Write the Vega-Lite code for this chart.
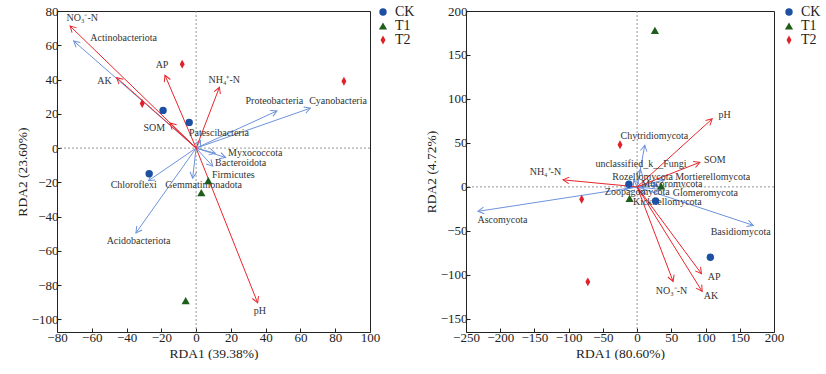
{
  "$schema": "https://vega.github.io/schema/vega-lite/v6.json",
  "padding": {"left": 14, "top": 4, "right": 0, "bottom": 0},
  "spacing": 7,
  "config": {
    "font": "Liberation Serif",
    "view": {"stroke": "#222", "strokeWidth": 1},
    "axis": {
      "grid": false, "domain": false, "tickColor": "#222", "tickSize": -4, "tickCount": 30,
      "labelFontSize": 13, "labelColor": "#222", "labelPadding": 3, "labelOverlap": false, "labelBound": false, "labelFlush": false,
      "titleFontSize": 13.5, "titleFontWeight": "normal", "titleColor": "#222", "titlePadding": 2
    },
    "legend": {
      "labelFontSize": 14, "labelColor": "#222", "symbolSize": 75, "rowPadding": 0,
      "labelOffset": 5, "padding": 0, "title": null
    },
    "text": {"font": "Liberation Serif"}
  },
  "datasets": {
    "pts1": [
      {"group": "CK", "x": -19, "y": 22}, {"group": "CK", "x": -4, "y": 15}, {"group": "CK", "x": -27, "y": -15},
      {"group": "T1", "x": 7, "y": -19}, {"group": "T1", "x": 3, "y": -26}, {"group": "T1", "x": -6, "y": -89},
      {"group": "T2", "x": -8, "y": 49}, {"group": "T2", "x": 85, "y": 39}, {"group": "T2", "x": -31, "y": 26}
    ],
    "env1": [
      {"name": "NO₃⁻-N", "x": -72.5, "y": 71.2, "lx": -65.5, "ly": 75.7},
      {"name": "AP", "x": -17.9, "y": 42.5, "lx": -19.6, "ly": 48.6},
      {"name": "NH₄⁺-N", "x": 13.4, "y": 35.5, "lx": 16.2, "ly": 39.8},
      {"name": "AK", "x": -45.7, "y": 41.1, "lx": -52.7, "ly": 39.4},
      {"name": "SOM", "x": -15, "y": 14.6, "lx": -24, "ly": 11.6},
      {"name": "pH", "x": 35.4, "y": -90.3, "lx": 36.7, "ly": -95.2}
    ],
    "sp1": [
      {"name": "Actinobacteriota", "x": -70.4, "y": 62.5, "lx": -41.7, "ly": 64},
      {"name": "Proteobacteria", "x": 46.5, "y": 21.7, "lx": 45, "ly": 27.5},
      {"name": "Cyanobacteria", "x": 65.7, "y": 23.3, "lx": 81.6, "ly": 27.5},
      {"name": "Patescibacteria", "x": 2.5, "y": 4.5, "lx": 13.1, "ly": 8.7},
      {"name": "Myxococcota", "x": 17, "y": -5.5, "lx": 34, "ly": -2.9},
      {"name": "Bacteroidota", "x": 9.5, "y": -10.5, "lx": 25.6, "ly": -8.7},
      {"name": "Firmicutes", "x": 11, "y": -3, "lx": 21.4, "ly": -15.5},
      {"name": "Chloroflexi", "x": -27.4, "y": -19, "lx": -35.9, "ly": -21.4},
      {"name": "Gemmatimonadota", "x": -2, "y": -17.5, "lx": 4.3, "ly": -21.4},
      {"name": "Acidobacteriota", "x": -34.6, "y": -49.5, "lx": -33.1, "ly": -54.4}
    ],
    "pts2": [
      {"group": "CK", "x": -12, "y": 3}, {"group": "CK", "x": 27, "y": -16}, {"group": "CK", "x": 107, "y": -80},
      {"group": "T1", "x": 26, "y": 178}, {"group": "T1", "x": 35, "y": 1}, {"group": "T1", "x": -11, "y": -13},
      {"group": "T2", "x": -25, "y": 48}, {"group": "T2", "x": -81, "y": -14}, {"group": "T2", "x": -72, "y": -108}
    ],
    "env2": [
      {"name": "pH", "x": 109.7, "y": 77.4, "lx": 128, "ly": 82},
      {"name": "SOM", "x": 91.7, "y": 28, "lx": 113.6, "ly": 30.3},
      {"name": "NH₄⁺-N", "x": -108.2, "y": 8, "lx": -134, "ly": 16.6},
      {"name": "NO₃⁻-N", "x": 52.6, "y": -107.5, "lx": 50.2, "ly": -118},
      {"name": "AP", "x": 94, "y": -98.7, "lx": 112.6, "ly": -102.5},
      {"name": "AK", "x": 95, "y": -118.9, "lx": 107.8, "ly": -124.6}
    ],
    "sp2": [
      {"name": "Ascomycota", "x": -232.5, "y": -27.8, "lx": -196.7, "ly": -37.2},
      {"name": "Basidiomycota", "x": 169.6, "y": -43.7, "lx": 151.3, "ly": -51.3},
      {"name": "Chytridiomycota", "x": 11.2, "y": 47.4, "lx": 25.3, "ly": 57.6},
      {"name": "unclassified_k__Fungi", "x": 5, "y": 20, "lx": 5.6, "ly": 26.2},
      {"name": "Rozellomycota", "x": -5, "y": 8, "lx": 8, "ly": 11.4},
      {"name": "Mortierellomycota", "x": 40, "y": 8, "lx": 110.4, "ly": 11.4},
      {"name": "Mucoromycota", "x": 30, "y": 2, "lx": 50.7, "ly": 3.4},
      {"name": "Zoopagomycota", "x": -18, "y": -3, "lx": 0.3, "ly": -5.7},
      {"name": "Glomeromycota", "x": 35, "y": -3, "lx": 99.7, "ly": -6.8},
      {"name": "Kickxellomycota", "x": 12, "y": -8, "lx": 44.2, "ly": -17.1}
    ]
  },
  "hconcat": [
    {
      "width": 313, "height": 321,
      "layer": [
        {
          "data": {"values": [{}]},
          "mark": {"type": "rule", "stroke": "#8a8a8a", "strokeDash": [2, 2], "strokeWidth": 0.9},
          "encoding": {
            "x": {"datum": 0, "type": "quantitative",
              "scale": {"domain": [-80, 100], "nice": false, "zero": false},
              "axis": {"title": "RDA1 (39.38%)", "values": [-80, -60, -40, -20, 0, 20, 40, 60, 80, 100], "tickCount": 30, "labelOverlap": false}}
          }
        },
        {
          "data": {"values": [{}]},
          "mark": {"type": "rule", "stroke": "#8a8a8a", "strokeDash": [2, 2], "strokeWidth": 0.9},
          "encoding": {
            "y": {"datum": 0, "type": "quantitative",
              "scale": {"domain": [-107.3, 80], "nice": false, "zero": false},
              "axis": {"title": "RDA2 (23.60%)", "values": [-100, -80, -60, -40, -20, 0, 20, 40, 60, 80], "tickCount": 30, "labelOverlap": false}}
          }
        },
        {
          "data": {"name": "sp1"},
          "mark": {"type": "rule", "stroke": "#6d93dc", "strokeWidth": 1},
          "encoding": {
            "x": {"field": "x", "type": "quantitative"}, "y": {"field": "y", "type": "quantitative"},
            "x2": {"datum": 0}, "y2": {"datum": 0}
          }
        },
        {
          "data": {"name": "sp1"},
          "mark": {"type": "point", "shape": "M-0.55,1L0,0L0.55,1", "filled": false, "stroke": "#6d93dc", "strokeWidth": 1, "size": 144, "opacity": 1,
            "angle": {"expr": "atan2(datum.x*1.7389, datum.y*1.7138)*180/PI"}},
          "encoding": {"x": {"field": "x", "type": "quantitative"}, "y": {"field": "y", "type": "quantitative"}}
        },
        {
          "data": {"name": "env1"},
          "mark": {"type": "rule", "stroke": "#e8262b", "strokeWidth": 1},
          "encoding": {
            "x": {"field": "x", "type": "quantitative"}, "y": {"field": "y", "type": "quantitative"},
            "x2": {"datum": 0}, "y2": {"datum": 0}
          }
        },
        {
          "data": {"name": "env1"},
          "mark": {"type": "point", "shape": "M-0.55,1L0,0L0.55,1", "filled": false, "stroke": "#e8262b", "strokeWidth": 1, "size": 144, "opacity": 1,
            "angle": {"expr": "atan2(datum.x*1.7389, datum.y*1.7138)*180/PI"}},
          "encoding": {"x": {"field": "x", "type": "quantitative"}, "y": {"field": "y", "type": "quantitative"}}
        },
        {
          "data": {"name": "sp1"},
          "mark": {"type": "text", "fontSize": 10, "color": "#333", "baseline": "middle"},
          "encoding": {"x": {"field": "lx", "type": "quantitative"}, "y": {"field": "ly", "type": "quantitative"}, "text": {"field": "name"}}
        },
        {
          "data": {"name": "env1"},
          "mark": {"type": "text", "fontSize": 10, "color": "#333", "baseline": "middle"},
          "encoding": {"x": {"field": "lx", "type": "quantitative"}, "y": {"field": "ly", "type": "quantitative"}, "text": {"field": "name"}}
        },
        {
          "data": {"name": "pts1"},
          "mark": {"type": "point", "filled": true, "opacity": 1},
          "encoding": {
            "x": {"field": "x", "type": "quantitative"}, "y": {"field": "y", "type": "quantitative"},
            "size": {"field": "group", "type": "nominal", "legend": null,
              "scale": {"domain": ["CK", "T1", "T2"], "range": [55, 80, 95]}},
            "color": {"field": "group", "type": "nominal",
              "scale": {"domain": ["CK", "T1", "T2"], "range": ["#1d4fa3", "#1f5e1a", "#e0202a"]},
              "legend": {"orient": "none", "legendX": 319, "legendY": -6}},
            "shape": {"field": "group", "type": "nominal",
              "scale": {"domain": ["CK", "T1", "T2"], "range": ["circle", "triangle-up", "M0,-1L0.55,0L0,1L-0.55,0Z"]},
              "legend": {"orient": "none", "legendX": 319, "legendY": -6}}
          }
        }
      ]
    },
    {
      "width": 308, "height": 321,
      "layer": [
        {
          "data": {"values": [{}]},
          "mark": {"type": "rule", "stroke": "#8a8a8a", "strokeDash": [2, 2], "strokeWidth": 0.9},
          "encoding": {
            "x": {"datum": 0, "type": "quantitative",
              "scale": {"domain": [-250, 200], "nice": false, "zero": false},
              "axis": {"title": "RDA1 (80.60%)", "values": [-250, -200, -150, -100, -50, 0, 50, 100, 150, 200], "tickCount": 30, "labelOverlap": false}}
          }
        },
        {
          "data": {"values": [{}]},
          "mark": {"type": "rule", "stroke": "#8a8a8a", "strokeDash": [2, 2], "strokeWidth": 0.9},
          "encoding": {
            "y": {"datum": 0, "type": "quantitative",
              "scale": {"domain": [-165, 200], "nice": false, "zero": false},
              "axis": {"title": "RDA2 (4.72%)", "values": [-150, -100, -50, 0, 50, 100, 150, 200], "tickCount": 30, "labelOverlap": false}}
          }
        },
        {
          "data": {"name": "sp2"},
          "mark": {"type": "rule", "stroke": "#6d93dc", "strokeWidth": 1},
          "encoding": {
            "x": {"field": "x", "type": "quantitative"}, "y": {"field": "y", "type": "quantitative"},
            "x2": {"datum": 0}, "y2": {"datum": 0}
          }
        },
        {
          "data": {"name": "sp2"},
          "mark": {"type": "point", "shape": "M-0.55,1L0,0L0.55,1", "filled": false, "stroke": "#6d93dc", "strokeWidth": 1, "size": 144, "opacity": 1,
            "angle": {"expr": "atan2(datum.x*0.6844, datum.y*0.8795)*180/PI"}},
          "encoding": {"x": {"field": "x", "type": "quantitative"}, "y": {"field": "y", "type": "quantitative"}}
        },
        {
          "data": {"name": "env2"},
          "mark": {"type": "rule", "stroke": "#e8262b", "strokeWidth": 1},
          "encoding": {
            "x": {"field": "x", "type": "quantitative"}, "y": {"field": "y", "type": "quantitative"},
            "x2": {"datum": 0}, "y2": {"datum": 0}
          }
        },
        {
          "data": {"name": "env2"},
          "mark": {"type": "point", "shape": "M-0.55,1L0,0L0.55,1", "filled": false, "stroke": "#e8262b", "strokeWidth": 1, "size": 144, "opacity": 1,
            "angle": {"expr": "atan2(datum.x*0.6844, datum.y*0.8795)*180/PI"}},
          "encoding": {"x": {"field": "x", "type": "quantitative"}, "y": {"field": "y", "type": "quantitative"}}
        },
        {
          "data": {"name": "sp2"},
          "mark": {"type": "text", "fontSize": 10, "color": "#333", "baseline": "middle"},
          "encoding": {"x": {"field": "lx", "type": "quantitative"}, "y": {"field": "ly", "type": "quantitative"}, "text": {"field": "name"}}
        },
        {
          "data": {"name": "env2"},
          "mark": {"type": "text", "fontSize": 10, "color": "#333", "baseline": "middle"},
          "encoding": {"x": {"field": "lx", "type": "quantitative"}, "y": {"field": "ly", "type": "quantitative"}, "text": {"field": "name"}}
        },
        {
          "data": {"name": "pts2"},
          "mark": {"type": "point", "filled": true, "opacity": 1},
          "encoding": {
            "x": {"field": "x", "type": "quantitative"}, "y": {"field": "y", "type": "quantitative"},
            "size": {"field": "group", "type": "nominal", "legend": null,
              "scale": {"domain": ["CK", "T1", "T2"], "range": [55, 80, 95]}},
            "color": {"field": "group", "type": "nominal",
              "scale": {"domain": ["CK", "T1", "T2"], "range": ["#1d4fa3", "#1f5e1a", "#e0202a"]},
              "legend": {"orient": "none", "legendX": 316, "legendY": -6}},
            "shape": {"field": "group", "type": "nominal",
              "scale": {"domain": ["CK", "T1", "T2"], "range": ["circle", "triangle-up", "M0,-1L0.55,0L0,1L-0.55,0Z"]},
              "legend": {"orient": "none", "legendX": 316, "legendY": -6}}
          }
        }
      ]
    }
  ],
  "resolve": {
    "scale": {"x": "independent", "y": "independent", "color": "independent", "shape": "independent", "size": "independent"},
    "legend": {"color": "independent", "shape": "independent"}
  }
}
